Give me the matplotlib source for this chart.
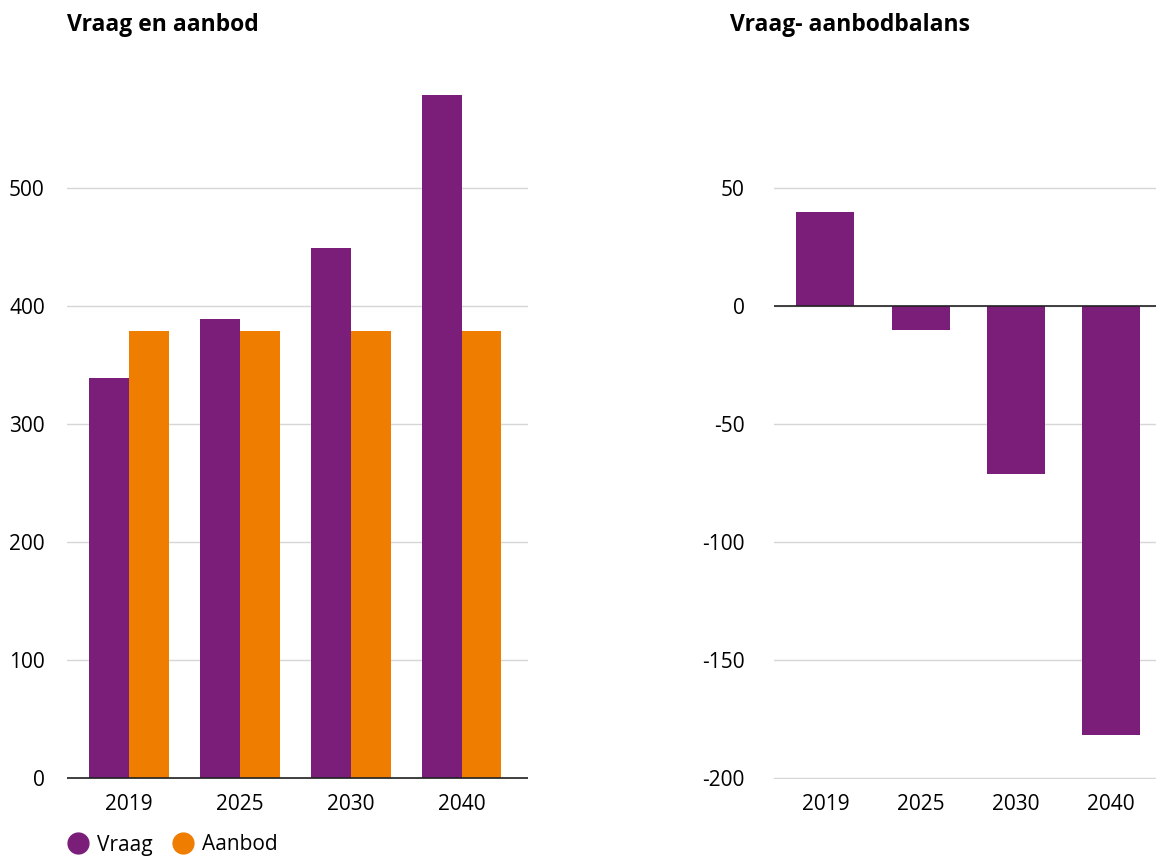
import matplotlib.pyplot as plt
from matplotlib.lines import Line2D

plt.rcParams['font.family'] = ['Open Sans', 'DejaVu Sans']
plt.rcParams['axes.unicode_minus'] = False

jaren = ['2019', '2025', '2030', '2040']
vraag = [339, 389, 449, 579]
aanbod = [379, 379, 379, 379]
balans = [40, -10, -71, -182]

paars = '#7b1e7a'
oranje = '#ef7d00'
grijs = '#d6d6d6'

fig = plt.figure(figsize=(11.56, 8.58), dpi=100)
W, H = 1156, 858

def px_axes(x0, y0, x1, y1):
    return fig.add_axes([x0 / W, 1 - y1 / H, (x1 - x0) / W, (y1 - y0) / H])

# left panel: demand and supply
ax1 = px_axes(67, 82, 528, 779)
x = range(len(jaren))
bw = 0.36
ax1.bar([i - bw / 2 for i in x], vraag, width=bw, color=paars, zorder=3)
ax1.bar([i + bw / 2 for i in x], aanbod, width=bw, color=oranje, zorder=3)
ax1.set_xlim(-0.56, 3.6)
ax1.set_ylim(-1, 590)
ax1.set_yticks([0, 100, 200, 300, 400, 500])
ax1.set_xticks(list(x))
ax1.set_xticklabels(jaren)
ax1.axhline(0, color='#222222', lw=1.2, zorder=4)
ax1.tick_params(axis='y', length=0, pad=16, labelsize=15)
ax1.tick_params(axis='x', length=0, pad=11, labelsize=15)

# right panel: balance
ax2 = px_axes(774, 82, 1156, 779)
ax2.bar(list(x), balans, width=0.61, color=paars, zorder=3)
ax2.set_xlim(-0.54, 3.47)
ax2.set_ylim(-200.5, 95)
ax2.set_yticks([-200, -150, -100, -50, 0, 50])
ax2.set_xticks(list(x))
ax2.set_xticklabels(jaren)
ax2.axhline(0, color='#222222', lw=1.2, zorder=4)
ax2.tick_params(axis='y', length=0, pad=21, labelsize=15)
ax2.tick_params(axis='x', length=0, pad=11, labelsize=15)

for ax in (ax1, ax2):
    for s in ax.spines.values():
        s.set_visible(False)
    ax.grid(axis='y', color=grijs, lw=1, zorder=0)
    ax.set_axisbelow(True)

fig.text(67 / W, 1 - 25 / H, 'Vraag en aanbod', fontsize=16.5, fontweight='bold',
         va='center', ha='left')
fig.text(730 / W, 1 - 25 / H, 'Vraag- aanbodbalans', fontsize=16.5, fontweight='bold',
         va='center', ha='left')

handles = [Line2D([], [], marker='o', ls='', color=paars, markersize=15),
           Line2D([], [], marker='o', ls='', color=oranje, markersize=15)]
fig.legend(handles, ['Vraag', 'Aanbod'], loc='center left',
           bbox_to_anchor=(65 / W, 1 - 845 / H), ncol=2, frameon=False,
           fontsize=15, handletextpad=0.35, columnspacing=0.82, handlelength=1.2,
           borderaxespad=0, borderpad=0)

fig.savefig('out.png', dpi=100)
